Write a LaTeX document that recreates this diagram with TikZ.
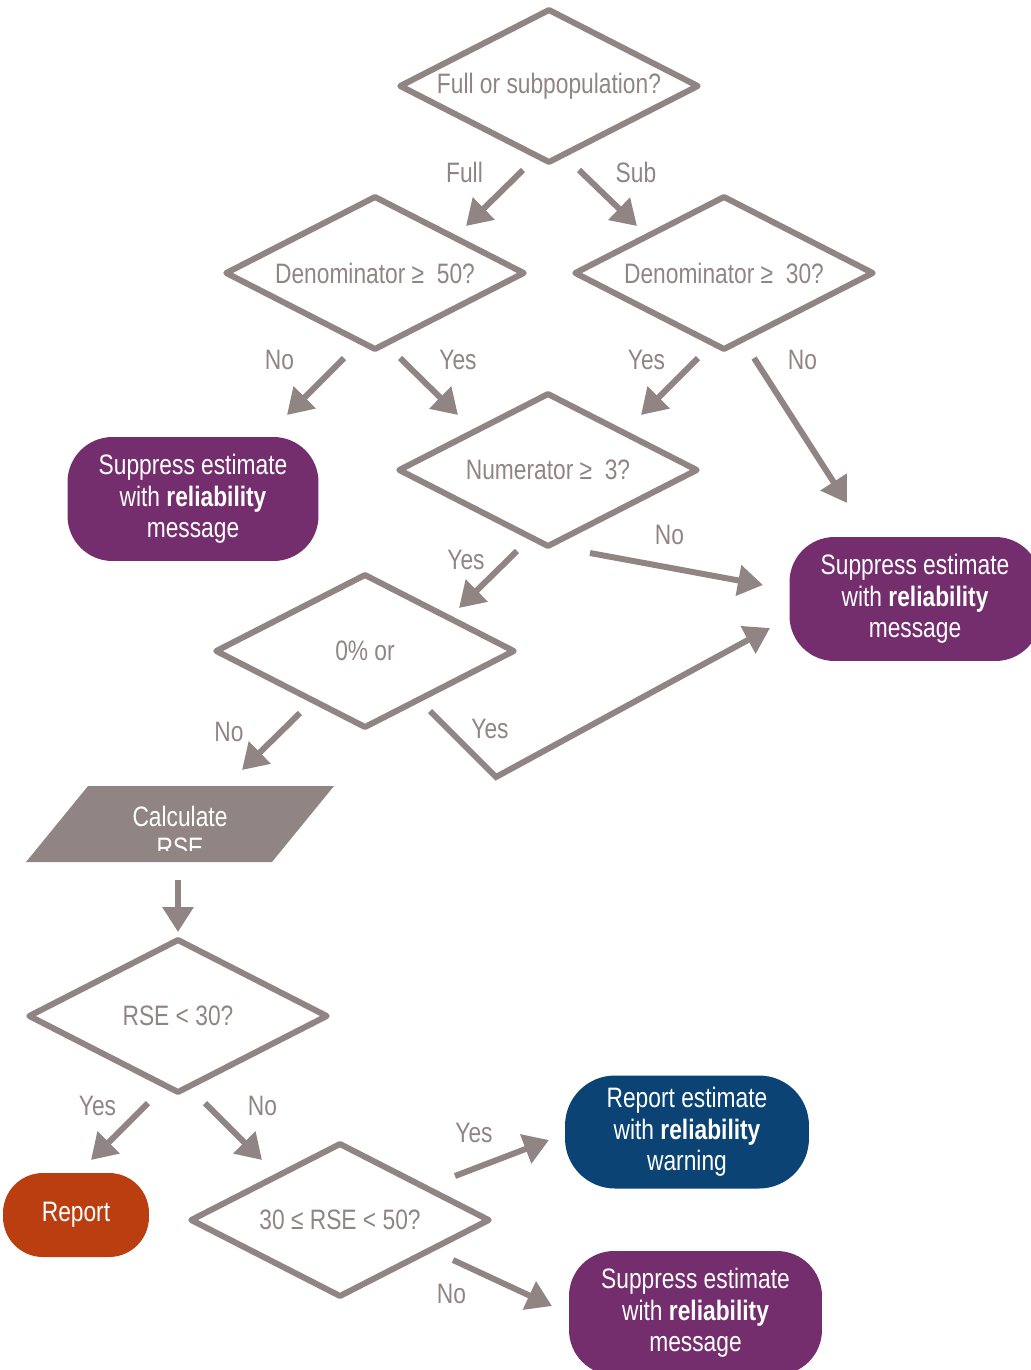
\documentclass[tikz,border=0pt]{standalone}
\usepackage{fontspec}
\setmainfont{Liberation Sans}[FakeStretch=0.81]
\usepackage{xcolor}
\usetikzlibrary{positioning,calc,arrows.meta,shapes.geometric}

\definecolor{flowgray}{RGB}{145,133,131}
\definecolor{flowpurple}{RGB}{116,46,110}
\definecolor{flowblue}{RGB}{11,67,116}
\definecolor{floworange}{RGB}{187,62,17}

\tikzset{
	decision/.style={diamond, draw=flowgray, line width=0.12cm, line join=round, aspect=2, inner sep=0pt, minimum width=6cm, minimum height=3.09cm, text=flowgray},
	terminal/.style={rectangle, fill=#1, text=white, align=center, inner sep=0pt, rounded corners=0.9cm},
	calcbox/.style={rectangle, fill=flowgray, inner sep=0pt, minimum width=4.92cm, minimum height=1.52cm, xslant=0.816, transform shape},
	arr/.style={draw=flowgray, line width=0.12cm, -{Triangle[length=0.5cm,width=0.6cm]}},
	lbl/.style={text=flowgray, inner sep=0pt}
}

\begin{document}
\begin{tikzpicture}[x=0.02cm, y=-0.02cm, font=\fontsize{16}{18}\selectfont]
		\useasboundingbox (0,0) rectangle (1031,1370);
		
		\node[decision] (full) at (549,86) {Full or subpopulation?};
		\node[decision] (den50) at (375,273) {Denominator ≥\ \ 50?};
		\node[decision] (den30) at (724,273) {Denominator ≥\ \ 30?};
		\node[decision] (num3) at (548,470) {Numerator ≥\ \ 3?};
		\node[decision] (zero) at (365,651) {0\% or};
		\node[calcbox] (rse) at (180,824) {};
		\begin{scope}
			\clip (0,780) rectangle (400,850);
			\node[lbl, text=white, align=center] (rsetext) at (180,832) {Calculate\\RSE};
		\end{scope}
		\node[decision] (rse30) at (178,1016) {RSE < 30?};
		\node[decision] (rse50) at (340,1220) {30 ≤ RSE < 50?};
		
		\node[terminal=flowpurple, minimum width=5.02cm, minimum height=2.48cm] (supp1) at (193,499) {Suppress estimate\\with \textbf{reliability}\\message};
		\node[terminal=flowpurple, minimum width=5.02cm, minimum height=2.48cm] (supp2) at (915,599) {Suppress estimate\\with \textbf{reliability}\\message};
		\node[terminal=floworange, minimum width=2.92cm, minimum height=1.68cm, rounded corners=0.8cm] (report) at (76,1215) {Report};
		\node[terminal=flowblue, minimum width=4.88cm, minimum height=2.26cm, rounded corners=1cm] (warn) at (687,1132) {Report estimate\\with \textbf{reliability}\\warning};
		\node[terminal=flowpurple, minimum width=5.06cm, minimum height=2.48cm] (supp3) at (695.5,1313) {Suppress estimate\\with \textbf{reliability}\\message};
		
		\draw[arr] ($(full)+(-26,84)$) -- node[lbl, shift={(-30,-26)}] {Full} ($(den50)+(91,-47)$);
		\draw[arr] ($(full)+(30,84)$) -- node[lbl, shift={(28,-26)}] {Sub} ($(den30)+(-87,-47)$);
		\draw[arr] ($(den50)+(-31,85)$) -- node[lbl, shift={(-36,-27)}] {No} ($(supp1)+(94,-84)$);
		\draw[arr] ($(den50)+(25,85)$) -- node[lbl, shift={(29,-27)}] {Yes} ($(num3)+(-90,-55)$);
		\draw[arr] ($(den30)+(-26,85)$) -- node[lbl, shift={(-23,-27)}] {Yes} ($(num3)+(93,-55)$);
		\draw[arr] ($(den30)+(30,85)$) -- node[lbl, shift={(2,-71)}] {No} ($(supp2)+(-68,-96)$);
		\draw[arr] ($(num3)+(-31,81)$) -- node[lbl, shift={(-22,-20)}] {Yes} ($(zero)+(94,-43)$);
		\draw[arr] ($(num3)+(42,83)$) -- node[lbl, shift={(-7,-34)}] {No} ($(supp2)+(-152,-14)$);
		\draw[arr] ($(zero)+(-65,62)$) -- node[lbl, shift={(-42,-10)}] {No} ($(rse)+(62,-54)$);
		\draw[arr] ($(zero)+(65,60)$) -- node[lbl, shift={(27,-15)}] {Yes} ($(zero)+(131,126)$) -- ($(supp2)+(-145,29)$);
		\draw[arr] ($(rse)+(-2,56)$) -- ($(rse30)+(0,-84)$);
		\draw[arr] ($(rse30)+(-30,87)$) -- node[lbl, shift={(-22,-26)}] {Yes} ($(report)+(15,-55)$);
		\draw[arr] ($(rse30)+(27,87)$) -- node[lbl, shift={(29,-26)}] {No} ($(rse50)+(-78,-60)$);
		\draw[arr] ($(rse50)+(115,-44)$) -- node[lbl, shift={(-28,-25)}] {Yes} ($(warn)+(-138,8)$);
		\draw[arr] ($(rse50)+(113,40)$) -- node[lbl, shift={(-51,11)}] {No} ($(supp3)+(-143.5,-7)$);
\end{tikzpicture}
\end{document}
